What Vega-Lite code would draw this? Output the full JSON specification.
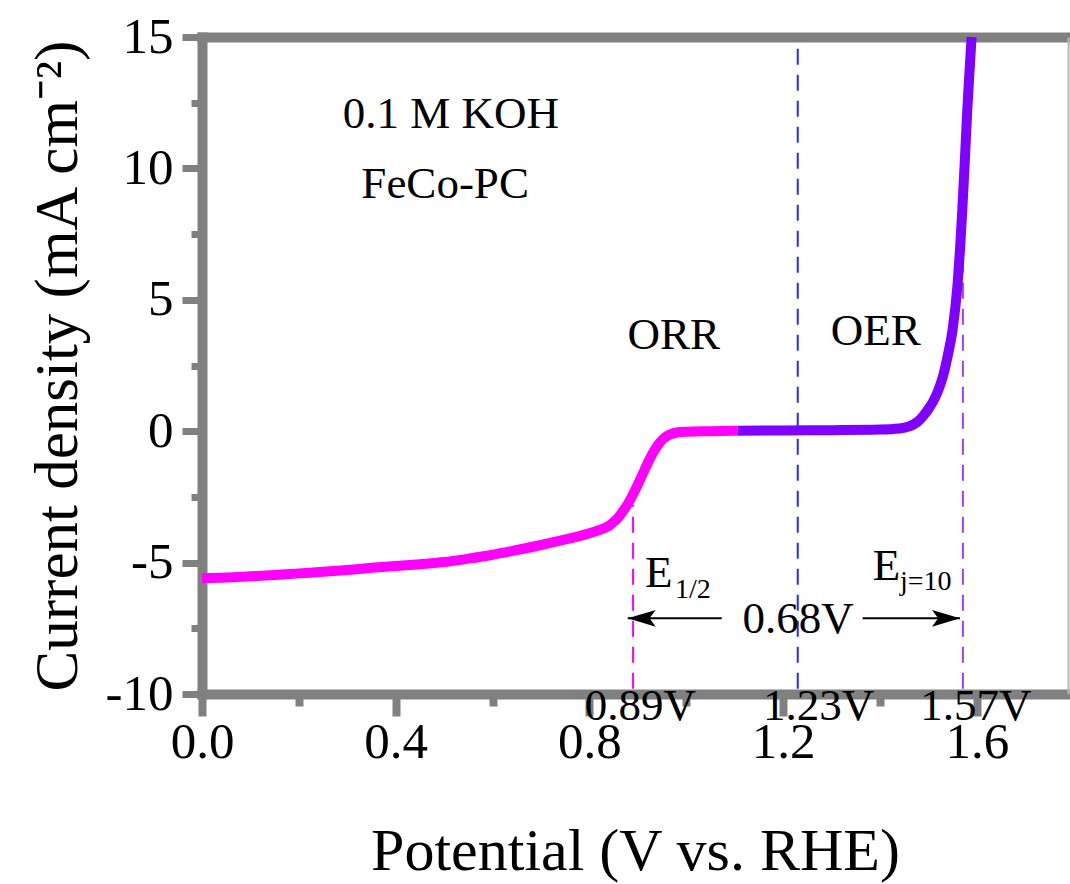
{
  "$schema": "https://vega.github.io/schema/vega-lite/v6.json",
  "width": 866,
  "height": 657,
  "autosize": "none",
  "padding": {"left": 202, "top": 37, "right": 2, "bottom": 190},
  "background": "white",
  "config": {
    "view": {"stroke": null},
    "axis": {"grid": false, "labelFont": "Liberation Serif", "titleFont": "Liberation Serif", "labelColor": "black", "titleColor": "black", "titleFontWeight": "normal", "domainColor": "#808080", "tickColor": "#808080", "domainCap": "square"},
    "text": {"font": "Liberation Serif"}
  },
  "resolve": {"axis": {"x": "independent", "y": "independent"}, "scale": {"color": "independent", "shape": "independent"}},
  "layer": [
    {
      "data": {"values": [
        {"x": 0.89, "y": -9.8, "y2": -2.8, "k": "a"},
        {"x": 1.23, "y": -9.8, "y2": 14.7, "k": "b"},
        {"x": 1.571, "y": -9.8, "y2": 10, "k": "c"}
      ]},
      "mark": {"type": "rule", "strokeDash": [16, 10], "strokeWidth": 2},
      "encoding": {
        "x": {"field": "x", "type": "quantitative", "scale": {"domain": [0, 1.788], "nice": false, "zero": false},
              "axis": {"orient": "bottom", "values": [0.2, 0.6, 1.0, 1.4], "labels": false, "domain": false, "tickSize": 12, "tickWidth": 8, "title": null}},
        "y": {"field": "y", "type": "quantitative", "scale": {"domain": [-10, 15], "nice": false, "zero": false},
              "axis": {"orient": "left", "values": [-7.5, -2.5, 2.5, 7.5, 12.5], "labels": false, "domain": false, "tickSize": 11, "tickWidth": 7, "title": null}},
        "y2": {"field": "y2"},
        "color": {"field": "k", "type": "nominal", "scale": {"domain": ["a", "b", "c"], "range": ["#ff00ff", "#2828ff", "#a040ff"]}, "legend": null}
      }
    },
    {
      "data": {"values": [
        {"x": 0.0, "y": -5.6, "s": "ORR"},
        {"x": 0.05, "y": -5.57, "s": "ORR"},
        {"x": 0.1, "y": -5.52, "s": "ORR"},
        {"x": 0.15, "y": -5.47, "s": "ORR"},
        {"x": 0.2, "y": -5.41, "s": "ORR"},
        {"x": 0.25, "y": -5.35, "s": "ORR"},
        {"x": 0.3, "y": -5.28, "s": "ORR"},
        {"x": 0.35, "y": -5.2, "s": "ORR"},
        {"x": 0.4, "y": -5.13, "s": "ORR"},
        {"x": 0.45, "y": -5.06, "s": "ORR"},
        {"x": 0.5, "y": -4.98, "s": "ORR"},
        {"x": 0.55, "y": -4.85, "s": "ORR"},
        {"x": 0.6, "y": -4.7, "s": "ORR"},
        {"x": 0.65, "y": -4.52, "s": "ORR"},
        {"x": 0.7, "y": -4.33, "s": "ORR"},
        {"x": 0.75, "y": -4.12, "s": "ORR"},
        {"x": 0.8, "y": -3.88, "s": "ORR"},
        {"x": 0.82, "y": -3.76, "s": "ORR"},
        {"x": 0.84, "y": -3.6, "s": "ORR"},
        {"x": 0.85, "y": -3.45, "s": "ORR"},
        {"x": 0.86, "y": -3.27, "s": "ORR"},
        {"x": 0.87, "y": -3.02, "s": "ORR"},
        {"x": 0.88, "y": -2.74, "s": "ORR"},
        {"x": 0.89, "y": -2.4, "s": "ORR"},
        {"x": 0.9, "y": -2.02, "s": "ORR"},
        {"x": 0.91, "y": -1.62, "s": "ORR"},
        {"x": 0.92, "y": -1.22, "s": "ORR"},
        {"x": 0.93, "y": -0.86, "s": "ORR"},
        {"x": 0.94, "y": -0.56, "s": "ORR"},
        {"x": 0.95, "y": -0.33, "s": "ORR"},
        {"x": 0.96, "y": -0.18, "s": "ORR"},
        {"x": 0.97, "y": -0.1, "s": "ORR"},
        {"x": 0.98, "y": -0.05, "s": "ORR"},
        {"x": 1.0, "y": -0.02, "s": "ORR"},
        {"x": 1.05, "y": 0.0, "s": "ORR"},
        {"x": 1.106, "y": 0.02, "s": "ORR"},
        {"x": 1.106, "y": 0.02, "s": "OER"},
        {"x": 1.2, "y": 0.03, "s": "OER"},
        {"x": 1.3, "y": 0.04, "s": "OER"},
        {"x": 1.4, "y": 0.06, "s": "OER"},
        {"x": 1.44, "y": 0.1, "s": "OER"},
        {"x": 1.46, "y": 0.18, "s": "OER"},
        {"x": 1.47, "y": 0.27, "s": "OER"},
        {"x": 1.48, "y": 0.4, "s": "OER"},
        {"x": 1.49, "y": 0.6, "s": "OER"},
        {"x": 1.5, "y": 0.85, "s": "OER"},
        {"x": 1.51, "y": 1.15, "s": "OER"},
        {"x": 1.52, "y": 1.55, "s": "OER"},
        {"x": 1.53, "y": 2.1, "s": "OER"},
        {"x": 1.54, "y": 2.9, "s": "OER"},
        {"x": 1.55, "y": 3.9, "s": "OER"},
        {"x": 1.56, "y": 5.6, "s": "OER"},
        {"x": 1.565, "y": 6.9, "s": "OER"},
        {"x": 1.57, "y": 8.5, "s": "OER"},
        {"x": 1.575, "y": 10.3, "s": "OER"},
        {"x": 1.58, "y": 12.2, "s": "OER"},
        {"x": 1.585, "y": 13.8, "s": "OER"},
        {"x": 1.589, "y": 15.0, "s": "OER"}
      ]},
      "mark": {"type": "line", "strokeWidth": 10, "interpolate": "monotone"},
      "encoding": {
        "x": {"field": "x", "type": "quantitative", "scale": {"domain": [0, 1.788], "nice": false, "zero": false},
              "axis": {"orient": "bottom", "values": [0, 0.4, 0.8, 1.2, 1.6], "labelExpr": "format(datum.value, '.1f')", "domainWidth": 10, "tickWidth": 8, "tickSize": 22, "labelFontSize": 51, "labelPadding": 1, "labelFlush": false, "labelOverlap": false,
                       "title": "Potential (V vs. RHE)", "titleFontSize": 60, "titleBaseline": "alphabetic", "titleY": 175}},
        "y": {"field": "y", "type": "quantitative", "scale": {"domain": [-10, 15], "nice": false, "zero": false},
              "axis": {"orient": "left", "values": [-10, -5, 0, 5, 10, 15], "labelExpr": "datum.value < 0 ? '-' + abs(datum.value) : '' + datum.value", "domainWidth": 10, "tickWidth": 7, "tickSize": 20, "labelFontSize": 51, "labelPadding": 9, "labelFlush": false, "labelOverlap": false,
                       "title": "Current density (mA cm⁻²)", "titleFontSize": 61, "titleAngle": -90, "titleBaseline": "alphabetic", "titleX": -126}},
        "color": {"field": "s", "type": "nominal", "scale": {"domain": ["ORR", "OER"], "range": ["#ff00ff", "#7f00ff"]}, "legend": null}
      }
    },
    {
      "data": {"values": [
        {"x": 0.879, "x2": 1.073, "y": -7.12},
        {"x": 1.364, "x2": 1.565, "y": -7.12}
      ]},
      "mark": {"type": "rule", "strokeWidth": 2, "color": "black"},
      "encoding": {
        "x": {"field": "x", "type": "quantitative", "scale": {"domain": [0, 1.788], "nice": false, "zero": false},
              "axis": {"orient": "top", "labels": false, "ticks": false, "domainWidth": 10, "title": null}},
        "x2": {"field": "x2"},
        "y": {"field": "y", "type": "quantitative", "scale": {"domain": [-10, 15], "nice": false, "zero": false},
              "axis": {"orient": "right", "labels": false, "ticks": false, "domainWidth": 2, "domainColor": "#b8b8b8", "domainCap": "butt", "title": null}}
      }
    },
    {
      "data": {"values": [
        {"x": 0.879, "y": -7.12, "d": "l"},
        {"x": 1.565, "y": -7.12, "d": "r"}
      ]},
      "mark": {"type": "point", "filled": true, "color": "black", "size": 3136, "opacity": 1, "strokeWidth": 0},
      "encoding": {
        "x": {"field": "x", "type": "quantitative", "scale": {"domain": [0, 1.788], "nice": false, "zero": false}, "axis": null},
        "y": {"field": "y", "type": "quantitative", "scale": {"domain": [-10, 15], "nice": false, "zero": false}, "axis": null},
        "shape": {"field": "d", "type": "nominal", "scale": {"domain": ["l", "r"], "range": ["M0,0L1,-0.3L0.78,0L1,0.3Z", "M0,0L-1,-0.3L-0.78,0L-1,0.3Z"]}, "legend": null}
      }
    },
    {
      "data": {"values": [
        {"x": 0.514, "y": 11.54, "t": "0.1 M KOH"},
        {"x": 0.502, "y": 8.87, "t": "FeCo-PC"},
        {"x": 0.974, "y": 3.13, "t": "ORR"},
        {"x": 1.391, "y": 3.28, "t": "OER"},
        {"x": 1.231, "y": -7.68, "t": "0.68V"}
      ]},
      "mark": {"type": "text", "fontSize": 45, "align": "center", "baseline": "alphabetic", "color": "black"},
      "encoding": {
        "x": {"field": "x", "type": "quantitative", "scale": {"domain": [0, 1.788], "nice": false, "zero": false}, "axis": null},
        "y": {"field": "y", "type": "quantitative", "scale": {"domain": [-10, 15], "nice": false, "zero": false}, "axis": null},
        "text": {"field": "t"}
      }
    },
    {
      "data": {"values": [
        {"x": 0.905, "y": -10.99, "t": "0.89V"},
        {"x": 1.273, "y": -10.99, "t": "1.23V"},
        {"x": 1.598, "y": -10.99, "t": "1.57V"}
      ]},
      "mark": {"type": "text", "fontSize": 45, "align": "center", "baseline": "alphabetic", "color": "black"},
      "encoding": {
        "x": {"field": "x", "type": "quantitative", "scale": {"domain": [0, 1.788], "nice": false, "zero": false}, "axis": null},
        "y": {"field": "y", "type": "quantitative", "scale": {"domain": [-10, 15], "nice": false, "zero": false}, "axis": null},
        "text": {"field": "t"}
      }
    },
    {
      "data": {"values": [
        {"x": 0.9145, "y": -5.93, "t": "E"},
        {"x": 1.385, "y": -5.66, "t": "E"}
      ]},
      "mark": {"type": "text", "fontSize": 45, "align": "left", "baseline": "alphabetic", "color": "black"},
      "encoding": {
        "x": {"field": "x", "type": "quantitative", "scale": {"domain": [0, 1.788], "nice": false, "zero": false}, "axis": null},
        "y": {"field": "y", "type": "quantitative", "scale": {"domain": [-10, 15], "nice": false, "zero": false}, "axis": null},
        "text": {"field": "t"}
      }
    },
    {
      "data": {"values": [
        {"x": 0.9765, "y": -6.35, "t": "1/2"},
        {"x": 1.441, "y": -6.04, "t": "j=10"}
      ]},
      "mark": {"type": "text", "fontSize": 28, "align": "left", "baseline": "alphabetic", "color": "black"},
      "encoding": {
        "x": {"field": "x", "type": "quantitative", "scale": {"domain": [0, 1.788], "nice": false, "zero": false}, "axis": null},
        "y": {"field": "y", "type": "quantitative", "scale": {"domain": [-10, 15], "nice": false, "zero": false}, "axis": null},
        "text": {"field": "t"}
      }
    }
  ]
}
